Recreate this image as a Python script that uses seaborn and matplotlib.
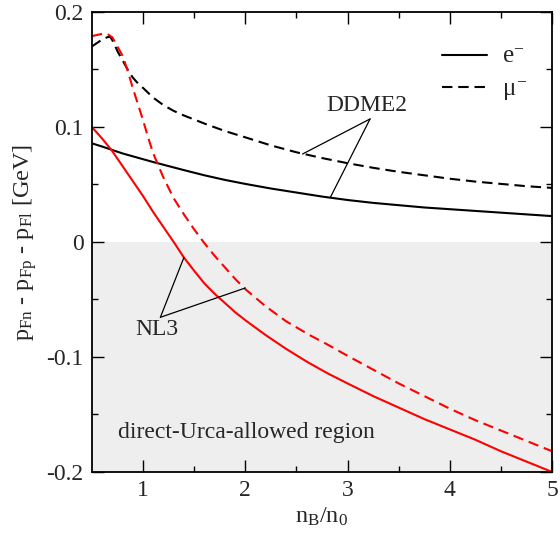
import matplotlib
matplotlib.use("Agg")
import matplotlib.pyplot as plt
import seaborn as sns

# ---- data ----
ddme2_e_x = [0.5, 0.6, 0.7, 0.8, 0.9, 1.0, 1.1, 1.25, 1.4, 1.6, 1.8, 2.0, 2.25, 2.5, 2.75,
             3.0, 3.25, 3.5, 3.75, 4.0, 4.25, 4.5, 4.75, 5.0]
ddme2_e_y = [0.0858, 0.083, 0.080, 0.077, 0.0745, 0.072, 0.0695, 0.066, 0.0625, 0.058,
             0.054, 0.0505, 0.0465, 0.043, 0.0395, 0.0365, 0.034, 0.032, 0.030, 0.0285,
             0.027, 0.0255, 0.024, 0.0225]

ddme2_mu_x = [0.5, 0.55, 0.6, 0.65, 0.68, 0.71, 0.75, 0.8, 0.85, 0.9, 0.95, 1.0, 1.1, 1.2,
              1.3, 1.4, 1.5, 1.6, 1.8, 2.0, 2.25, 2.5, 2.75, 3.0, 3.25, 3.5, 3.75, 4.0,
              4.25, 4.5, 4.75, 5.0]
ddme2_mu_y = [0.170, 0.173, 0.176, 0.178, 0.1785, 0.174, 0.166, 0.158, 0.150, 0.143, 0.138,
              0.134, 0.1255, 0.119, 0.114, 0.110, 0.1065, 0.103, 0.0965, 0.091, 0.084,
              0.078, 0.073, 0.0685, 0.0645, 0.061, 0.058, 0.055, 0.0525, 0.0505, 0.0485,
              0.047]

nl3_e_x = [0.5, 0.6, 0.7, 0.8, 0.9, 1.0, 1.1, 1.2, 1.3, 1.4, 1.5, 1.6, 1.7, 1.8, 1.9, 2.0,
           2.2, 2.4, 2.6, 2.8, 3.0, 3.25, 3.5, 3.75, 4.0, 4.25, 4.5, 4.75, 5.0]
nl3_e_y = [0.100, 0.090, 0.079, 0.066, 0.053, 0.040, 0.026, 0.013, 0.000, -0.0135, -0.025,
           -0.036, -0.045, -0.053, -0.061, -0.068, -0.081, -0.093, -0.104, -0.114, -0.123,
           -0.134, -0.144, -0.154, -0.163, -0.172, -0.182, -0.191, -0.200]

nl3_mu_x = [0.5, 0.55, 0.6, 0.65, 0.7, 0.75, 0.8, 0.85, 0.9, 0.95, 1.0, 1.05, 1.1, 1.2,
            1.3, 1.4, 1.5, 1.6, 1.7, 1.8, 1.9, 2.0, 2.2, 2.4, 2.63, 2.8, 3.0, 3.25, 3.5,
            3.75, 4.0, 4.25, 4.5, 4.75, 5.0]
nl3_mu_y = [0.179, 0.180, 0.181, 0.181, 0.178, 0.170, 0.162, 0.149, 0.134, 0.120, 0.106,
            0.091, 0.077, 0.056, 0.038, 0.024, 0.011, -0.001, -0.012, -0.022, -0.032,
            -0.041, -0.056, -0.069, -0.081, -0.089, -0.099, -0.111, -0.123, -0.134,
            -0.145, -0.155, -0.164, -0.173, -0.182]

x_ticks = [1, 2, 3, 4, 5]
y_ticks = [-0.2, -0.1, 0.0, 0.1, 0.2]
y_tick_labels = ["-0.2", "-0.1", "0", "0.1", "0.2"]

sns.set_style("ticks")
plt.rcParams["font.family"] = ["Liberation Serif", "DejaVu Serif"]
plt.rcParams["mathtext.fontset"] = "custom"
plt.rcParams["mathtext.rm"] = "Liberation Serif"
plt.rcParams["mathtext.it"] = "Liberation Serif"

fig = plt.figure(figsize=(5.6, 5.35), dpi=100)
ax = fig.add_axes([0.164, 0.1178, 0.822, 0.8598])

ax.axhspan(-0.2, 0.0, facecolor="#eeeeee", edgecolor="none", zorder=0)

lw = 1.5
dash_style = (0, (5, 2.8))
sns.lineplot(x=ddme2_e_x, y=ddme2_e_y, ax=ax, color="black", lw=lw, label=r"e$^{-}$",
             sort=False, estimator=None)
sns.lineplot(x=ddme2_mu_x, y=ddme2_mu_y, ax=ax, color="black", lw=lw, label=r"$\mu^{-}$",
             sort=False, estimator=None)
ax.lines[-1].set_linestyle(dash_style)
sns.lineplot(x=nl3_e_x, y=nl3_e_y, ax=ax, color="red", lw=lw, sort=False, estimator=None,
             legend=False)
sns.lineplot(x=nl3_mu_x, y=nl3_mu_y, ax=ax, color="red", lw=lw, sort=False, estimator=None,
             legend=False)
ax.lines[-1].set_linestyle(dash_style)

ax.set_xlim(0.5, 5)
ax.set_ylim(-0.2, 0.2)
ax.set_xticks(x_ticks)
ax.set_xticks([1.5, 2.5, 3.5, 4.5], minor=True)
ax.set_yticks(y_ticks)
ax.set_yticklabels(y_tick_labels)
ax.set_yticks([-0.15, -0.05, 0.05, 0.15], minor=True)
ax.tick_params(which="both", direction="in", top=True, right=True, labelsize=17,
               width=1.0, color="black")
ax.tick_params(which="major", length=8.5, pad=6)
ax.tick_params(which="minor", length=4.3)
for s in ax.spines.values():
    s.set_linewidth(1.3)
    s.set_color("black")

ax.set_xlabel(r"n$_\mathrm{B}$/n$_0$", fontsize=17.5, labelpad=3)
ax.set_ylabel(r"p$_\mathrm{Fn}$ - p$_\mathrm{Fp}$ - p$_\mathrm{Fl}$ [GeV]", fontsize=17.5,
              labelpad=5)

leg = ax.legend(loc="upper right", bbox_to_anchor=(0.995, 0.975), frameon=False, fontsize=18,
                handlelength=1.8, handletextpad=0.6, labelspacing=0.4)

ann = dict(arrowstyle="-", lw=0.9, color="black", shrinkA=0, shrinkB=0)
ax.text(3.19, 0.119, "DDME2", fontsize=17, ha="center", va="center")
ax.annotate("", xy=(2.56, 0.0765), xytext=(3.22, 0.107), arrowprops=ann)
ax.annotate("", xy=(2.83, 0.0385), xytext=(3.22, 0.107), arrowprops=ann)
ax.text(1.14, -0.076, "NL3", fontsize=17, ha="center", va="center")
ax.annotate("", xy=(1.40, -0.0135), xytext=(1.17, -0.0655), arrowprops=ann)
ax.annotate("", xy=(2.0, -0.040), xytext=(1.17, -0.0655), arrowprops=ann)
ax.text(0.76, -0.166, "direct-Urca-allowed region", fontsize=17, ha="left", va="center")

fig.savefig("out.png", dpi=100)
